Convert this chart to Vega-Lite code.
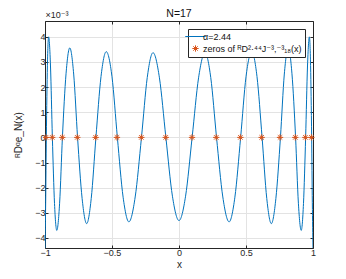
{
  "$schema": "https://vega.github.io/schema/vega-lite/v6.json",
  "autosize": "none",
  "width": 268,
  "height": 227,
  "padding": {"left": 45, "top": 21, "right": 33, "bottom": 31},
  "background": "white",
  "config": {
    "font": "Liberation Sans, DejaVu Sans",
    "view": {"stroke": null},
    "axis": {
      "labelFont": "Liberation Sans, DejaVu Sans",
      "titleFont": "Liberation Sans, DejaVu Sans",
      "labelFontSize": 9,
      "titleFontSize": 10,
      "titleFontWeight": "normal",
      "labelColor": "#262626",
      "titleColor": "#262626",
      "domainColor": "#262626",
      "tickColor": "#262626",
      "gridColor": "#e3e3e3",
      "tickSize": -3,
      "labelPadding": 3
    },
    "title": {"font": "Liberation Sans, DejaVu Sans", "fontSize": 10.5, "fontWeight": "normal", "color": "#111111", "offset": -9}
  },
  "title": "N=17",
  "datasets": {
    "curve": [
      {"x": -1, "y": -4.4}, {"x": -0.995, "y": -2.6}, {"x": -0.99, "y": 0}, {"x": -0.982, "y": 2.85},
      {"x": -0.973, "y": 4.0}, {"x": -0.959, "y": 2.84}, {"x": -0.945, "y": 0}, {"x": -0.929, "y": -2.63},
      {"x": -0.912, "y": -3.7}, {"x": -0.891, "y": -2.62}, {"x": -0.87, "y": 0}, {"x": -0.843, "y": 2.53},
      {"x": -0.815, "y": 3.56}, {"x": -0.786, "y": 2.52}, {"x": -0.757, "y": 0}, {"x": -0.723, "y": -2.43},
      {"x": -0.689, "y": -3.43}, {"x": -0.655, "y": -2.43}, {"x": -0.62, "y": 0}, {"x": -0.582, "y": 2.42},
      {"x": -0.543, "y": 3.41}, {"x": -0.5, "y": 2.41}, {"x": -0.46, "y": 0}, {"x": -0.417, "y": -2.38},
      {"x": -0.374, "y": -3.36}, {"x": -0.327, "y": -2.37}, {"x": -0.28, "y": 0}, {"x": -0.237, "y": 2.38},
      {"x": -0.194, "y": 3.37}, {"x": -0.146, "y": 2.37}, {"x": -0.098, "y": 0}, {"x": -0.049, "y": -2.34},
      {"x": 0, "y": -3.31},
      {"x": 0.049, "y": -2.34}, {"x": 0.098, "y": 0}, {"x": 0.146, "y": 2.37}, {"x": 0.194, "y": 3.37},
      {"x": 0.237, "y": 2.38}, {"x": 0.28, "y": 0}, {"x": 0.327, "y": -2.37}, {"x": 0.374, "y": -3.36},
      {"x": 0.417, "y": -2.38}, {"x": 0.46, "y": 0}, {"x": 0.5, "y": 2.41}, {"x": 0.543, "y": 3.41},
      {"x": 0.582, "y": 2.42}, {"x": 0.62, "y": 0}, {"x": 0.655, "y": -2.43}, {"x": 0.689, "y": -3.43},
      {"x": 0.723, "y": -2.43}, {"x": 0.757, "y": 0}, {"x": 0.786, "y": 2.52}, {"x": 0.815, "y": 3.56},
      {"x": 0.843, "y": 2.53}, {"x": 0.87, "y": 0}, {"x": 0.891, "y": -2.62}, {"x": 0.912, "y": -3.7},
      {"x": 0.929, "y": -2.63}, {"x": 0.945, "y": 0}, {"x": 0.959, "y": 2.84}, {"x": 0.973, "y": 4.0},
      {"x": 0.982, "y": 2.85}, {"x": 0.99, "y": 0}, {"x": 0.995, "y": -2.6}, {"x": 1, "y": -4.4}
    ],
    "zeros": [
      {"x": -0.993, "y": 0}, {"x": -0.946, "y": 0}, {"x": -0.871, "y": 0}, {"x": -0.759, "y": 0},
      {"x": -0.622, "y": 0}, {"x": -0.463, "y": 0}, {"x": -0.281, "y": 0}, {"x": -0.099, "y": 0},
      {"x": 0.097, "y": 0}, {"x": 0.278, "y": 0}, {"x": 0.458, "y": 0}, {"x": 0.617, "y": 0},
      {"x": 0.754, "y": 0}, {"x": 0.868, "y": 0}, {"x": 0.943, "y": 0}, {"x": 0.988, "y": 0}
    ]
  },
  "layer": [
    {
      "data": {"name": "curve"},
      "mark": {"type": "line", "interpolate": "monotone", "strokeWidth": 1, "clip": true},
      "encoding": {
        "x": {"field": "x", "type": "quantitative",
              "scale": {"domain": [-1, 1], "nice": false, "zero": false},
              "axis": {"title": "x", "values": [-1, -0.5, 0, 0.5, 1], "format": "~g", "grid": true, "titlePadding": 2, "labelFlush": false}},
        "y": {"field": "y", "type": "quantitative",
              "scale": {"domain": [-4.4, 4.63], "nice": false, "zero": false},
              "axis": {"title": "ᴿDᵅe_N(x)", "values": [-4, -3, -2, -1, 0, 1, 2, 3, 4], "format": "~g", "grid": true, "titlePadding": 11}},
        "color": {"datum": "α=2.44", "type": "nominal",
                  "scale": {"domain": ["α=2.44", "zeros of ᴿD²·⁴⁴J⁻³,⁻³₁₈(x)"], "range": ["#0072BD", "#D95319"]},
                  "legend": {
                    "title": null, "orient": "top-right", "offset": 8, "padding": 3,
                    "strokeColor": "#262626", "fillColor": "white",
                    "labelFontSize": 9, "labelColor": "#111111", "labelFont": "Liberation Sans, DejaVu Sans",
                    "symbolSize": 420, "rowPadding": 1, "labelOffset": 3,
                    "encode": {"symbols": {"update": {
                      "shape": {"signal": "datum.value == 'α=2.44' ? 'stroke' : 'M-1,0L1,0M0,-1L0,1M-0.7,-0.7L0.7,0.7M-0.7,0.7L0.7,-0.7'"},
                      "size": {"signal": "datum.value == 'α=2.44' ? 420 : 40"},
                      "fill": {"value": "transparent"},
                      "stroke": {"signal": "datum.value == 'α=2.44' ? '#0072BD' : '#D95319'"},
                      "strokeWidth": {"value": 1}
                    }}}
                  }}
      }
    },
    {
      "data": {"name": "zeros"},
      "mark": {"type": "point", "shape": "M-1,0L1,0M0,-1L0,1M-0.7,-0.7L0.7,0.7M-0.7,0.7L0.7,-0.7", "filled": false, "size": 40, "strokeWidth": 1, "opacity": 1},
      "encoding": {
        "x": {"field": "x", "type": "quantitative",
              "axis": {"orient": "top", "labels": false, "grid": false, "title": "×10⁻³", "titleAnchor": "start", "titleFontSize": 9, "titlePadding": 1, "values": [-1, -0.5, 0, 0.5, 1]}},
        "y": {"field": "y", "type": "quantitative",
              "axis": {"orient": "right", "labels": false, "grid": false, "title": null, "values": [-4, -3, -2, -1, 0, 1, 2, 3, 4]}},
        "color": {"datum": "zeros of ᴿD²·⁴⁴J⁻³,⁻³₁₈(x)", "type": "nominal"}
      }
    }
  ],
  "resolve": {"axis": {"x": "independent", "y": "independent"}}
}
